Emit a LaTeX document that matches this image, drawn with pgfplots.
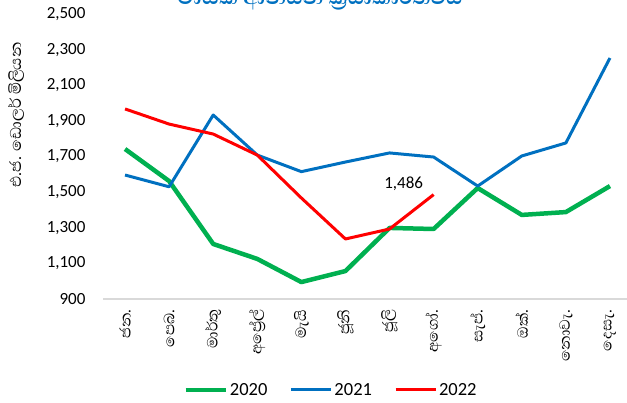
\documentclass[border=0pt]{standalone}
\usepackage{pgfplots}
\pgfplotsset{compat=1.18}
\usepackage{fontspec}
\setmainfont{Carlito}
\newfontfamily\sinfont[Script=Sinhala]{Abhaya Libre}
\definecolor{cgreen}{HTML}{00B050}
\definecolor{cblue}{HTML}{0070C0}
\definecolor{cred}{HTML}{FF0000}
\definecolor{caxis}{HTML}{D9D9D9}
\begin{document}
\begin{tikzpicture}[font=\fontsize{17}{20}\selectfont]
\useasboundingbox (0pt,0pt) rectangle (627pt,402pt);
\begin{axis}[
  at={(103pt,103pt)}, anchor=south west,
  scale only axis, width=529pt, height=285pt,
  xmin=-0.5, xmax=11.5, ymin=900, ymax=2500,
  axis lines*=left,
  y axis line style={draw=none},
  x axis line style={draw=caxis, line width=1.5pt},
  tick style={draw=none},
  xtick={0,...,11},
  xticklabels={ජන., පෙබ., මාර්තු, අප්^^^^200dරේල්, මැයි, ජූනි, ජූලි, අගෝ., සැප්., ඔක්., නොවැ., දෙසැ.},
  xticklabel style={font=\sinfont\fontsize{19}{22}\selectfont, yshift=-7pt, rotate=90, anchor=east},
  ytick={900,1100,...,2500},
  scaled y ticks=false,
  yticklabel style={/pgf/number format/1000 sep={,}, /pgf/number format/assume math mode=true, xshift=-14pt},
  legend columns=3,
  legend style={draw=none, fill=none, at={(0.431,-0.319)}, anchor=center, font=\fontsize{18.5}{22}\selectfont,
    /tikz/every even column/.append style={column sep=20pt}},
  legend image code/.code={\draw[#1] (0pt,0pt) -- (40pt,0pt);},
]
\addplot[cgreen, line width=4.5pt, line join=round] coordinates {
(0,1742) (1,1562) (2,1209) (3,1125) (4,995) (5,1057) (6,1299) (7,1293) (8,1523) (9,1372) (10,1388) (11,1534)};
\addlegendentry{2020}
\addplot[cblue, line width=3pt, line join=round] coordinates {
(0,1596) (1,1530) (2,1933) (3,1708) (4,1615) (5,1669) (6,1720) (7,1697) (8,1534) (9,1703) (10,1776) (11,2253)};
\addlegendentry{2021}
\addplot[cred, line width=3pt, line join=round] coordinates {
(0,1967) (1,1882) (2,1826) (3,1708) (4,1467) (5,1237) (6,1293) (7,1486)};
\addlegendentry{2022}
\node[xshift=-30pt, yshift=11pt] at (axis cs:7,1486) {1,486};
\end{axis}
\node[anchor=base, text=cblue, font=\sinfont\bfseries\fontsize{27}{30}\selectfont] at (320pt,397pt) {මාසික ආනයන ක්^^^^200dරියාකාරිත්වය};
\node[rotate=90, font=\sinfont\fontsize{20}{23}\selectfont] at (16pt,287pt) {එ.ජ. ඩොලර් මිලියන};
\end{tikzpicture}
\end{document}
